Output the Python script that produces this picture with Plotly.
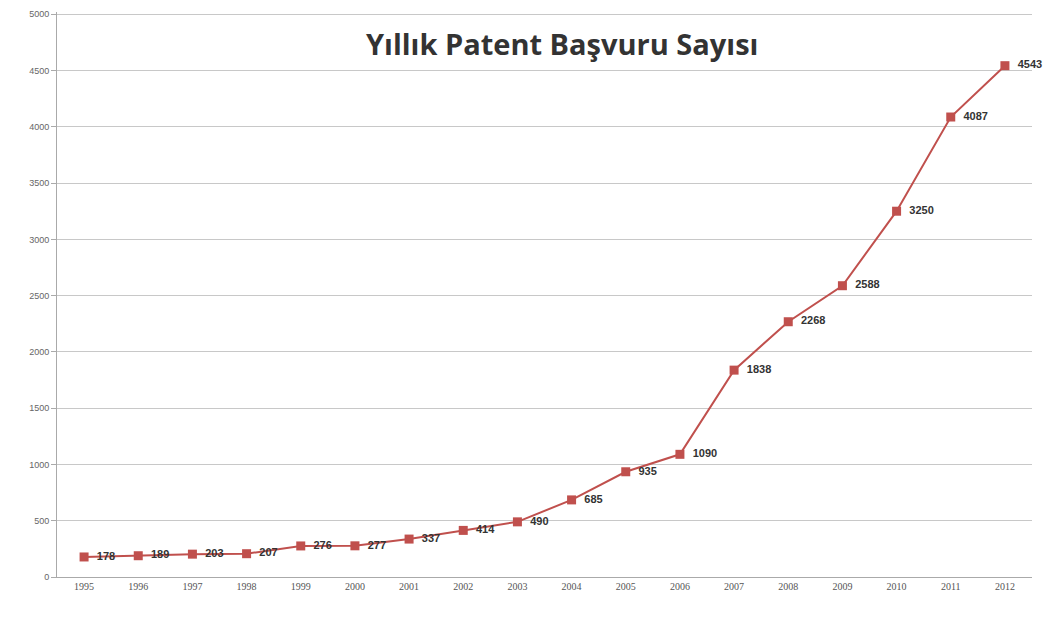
import plotly.graph_objects as go

years = ["1995", "1996", "1997", "1998", "1999", "2000", "2001", "2002", "2003",
         "2004", "2005", "2006", "2007", "2008", "2009", "2010", "2011", "2012"]
applications = [178, 189, 203, 207, 276, 277, 337, 414, 490,
                685, 935, 1090, 1838, 2268, 2588, 3250, 4087, 4543]
y_ticks = [0, 500, 1000, 1500, 2000, 2500, 3000, 3500, 4000, 4500, 5000]

line_color = "#c0504d"

fig = go.Figure()
fig.add_trace(go.Scatter(
    x=years,
    y=applications,
    mode="lines+markers+text",
    line=dict(color=line_color, width=2),
    marker=dict(symbol="square", size=9, color=line_color),
    text=[f"  <b>{v}</b>" for v in applications],
    textposition="middle right",
    textfont=dict(family="Liberation Sans, Arial", size=11, color="#333333"),
    cliponaxis=False,
    showlegend=False,
))

fig.update_layout(
    width=1045,
    height=617,
    margin=dict(l=57, r=13, t=12, b=40),
    paper_bgcolor="white",
    plot_bgcolor="white",
    title=dict(
        text="<b>Yıllık Patent Başvuru Sayısı</b>",
        x=0.538, xanchor="center",
        y=0.927, yanchor="middle",
        font=dict(family="Open Sans, Liberation Sans", size=29, color="#333333"),
    ),
    xaxis=dict(
        type="category",
        range=[-0.5, len(years) - 0.5],
        automargin=False,
        showgrid=False,
        showline=True,
        linecolor="#aaaaaa",
        ticks="",
        tickfont=dict(family="Liberation Serif", size=10, color="#555555"),
    ),
    yaxis=dict(
        range=[0, 5020],
        tickvals=y_ticks,
        automargin=False,
        showgrid=True,
        gridcolor="#c8c8c8",
        gridwidth=1,
        showline=True,
        linecolor="#aaaaaa",
        ticks="outside",
        ticklen=5,
        tickcolor="#aaaaaa",
        zeroline=False,
        tickfont=dict(family="Liberation Sans", size=9, color="#666666"),
    ),
)

# drop the default page margin so the figure sits at the window's top-left corner
fig.write_html(
    "out.html",
    config={"displayModeBar": False},
    post_script="document.body.style.margin = '0';",
)
